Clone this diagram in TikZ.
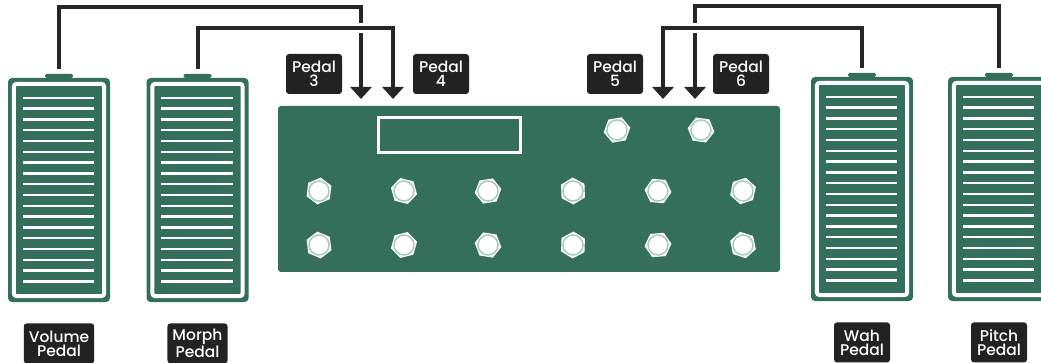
\documentclass[tikz,border=0pt]{standalone}
\usepackage{fontspec}
\setmainfont{Poppins}
\newfontfamily\tagfont{Poppins Medium}
\usetikzlibrary{shapes.geometric, arrows.meta, positioning}
\definecolor{boardgreen}{HTML}{336F5A}
\definecolor{ringgreen}{HTML}{A8CABD}
\definecolor{cablegray}{HTML}{262626}
\definecolor{tagblack}{HTML}{222222}
\tikzset{
  exprpedal/.style={
    rectangle,
    rounded corners=4pt,
    minimum width=102pt,
    minimum height=224pt,
    fill=boardgreen
  },
  board/.style={
    rectangle,
    rounded corners=3pt,
    minimum width=502pt,
    minimum height=166pt,
    fill=boardgreen
  },
  screen/.style={
    rectangle,
    minimum width=142pt,
    minimum height=35pt,
    draw=white,
    line width=3pt
  },
  switch/.style={
    regular polygon,
    regular polygon sides=6,
    minimum size=27pt,
    inner sep=0pt,
    fill=white
  },
  switchcap/.style={
    circle,
    minimum size=20pt,
    inner sep=0pt,
    fill=white,
    draw=ringgreen,
    line width=1.5pt
  },
  tag/.style={
    rectangle,
    rounded corners=3pt,
    minimum width=56pt,
    minimum height=40pt,
    inner xsep=5pt,
    align=center,
    fill=tagblack,
    text=white,
    font=\tagfont\fontsize{15.5}{14}\selectfont
  },
  cable/.style={
    line width=4pt,
    draw=cablegray,
    -{Triangle[length=12pt,width=21pt]},
    shorten <=9pt,
    preaction={draw=white, line width=10pt, arrows=-}
  },
  stripe/.style={white, line width=2.5pt},
  frame/.style={white, line width=4pt, rounded corners=3pt}
}

\begin{document}
\begin{tikzpicture}[x=1pt, y=-1pt]
    \useasboundingbox (0,0) rectangle (1041,363);
    \clip (0,0) rectangle (1041,363);

    % expression pedals
    \node (volume) [exprpedal] at (59,190) {};
    \node (morph) [exprpedal] at (197.5,190) {};
    \node (wah) [exprpedal] at (862,189) {};
    \node (pitch) [exprpedal] at (999,189) {};
    \foreach \p in {volume, morph, wah, pitch} {
      \fill[boardgreen, rounded corners=1.5pt] ([xshift=-14pt]\p.north) rectangle ([xshift=14pt, yshift=4pt]\p.north);
      \draw[frame] ([shift={(6pt,-6pt)}]\p.north west) rectangle ([shift={(-6pt,6pt)}]\p.south east);
      \foreach \k in {0,...,17}
        \draw[stripe] ([shift={(15pt,-20pt-10.8pt*\k)}]\p.north west) -- ([shift={(-16pt,-20pt-10.8pt*\k)}]\p.north east);
    }
    \node (volumetag) [tag, below=21pt of volume] {Volume\\Pedal};
    \node (morphtag) [tag, below=21pt of morph] {Morph\\Pedal};
    \node (wahtag) [tag, below=21pt of wah] {Wah\\Pedal};
    \node (pitchtag) [tag, below=21pt of pitch] {Pitch\\Pedal};

    % controller
    \node (unit) [board] at (529,189) {};
    \node (display) [screen] at (449.5,135) {};
    \foreach \x [count=\i] in {319,404,488,573,658,743} {
      \node (sa\i) [switch, rotate=23*\i] at (\x,191) {};
      \node (ca\i) [switchcap] at (sa\i) {};
      \node (sb\i) [switch, rotate=37*\i] at (\x,245) {};
      \node (cb\i) [switchcap] at (sb\i) {};
    }
    \node (st1) [switch, rotate=10] at (617,130) {};
    \node (ct1) [switchcap] at (st1) {};
    \node (st2) [switch, rotate=-8] at (701,130) {};
    \node (ct2) [switchcap] at (st2) {};

    % inputs
    \node (tag3) [tag] at (314,74) {Pedal\\3};
    \node (tag4) [tag] at (441,74) {Pedal\\4};
    \node (tag5) [tag] at (615,74) {Pedal\\5};
    \node (tag6) [tag] at (741,74) {Pedal\\6};
    \coordinate (jack3) at (361,99);
    \coordinate (jack4) at (393,99);
    \coordinate (jack5) at (663,99);
    \coordinate (jack6) at (695,99);

    \draw[cable] (volume.north) -- ++(0,-71) -| (jack3);
    \draw[cable] (morph.north) -- ++(0,-50) -| (jack4);
    \draw[cable] (pitch.north) -- ++(0,-71) -| (jack6);
    \draw[cable] (wah.north) -- ++(0,-49) -| (jack5);
\end{tikzpicture}
\end{document}
